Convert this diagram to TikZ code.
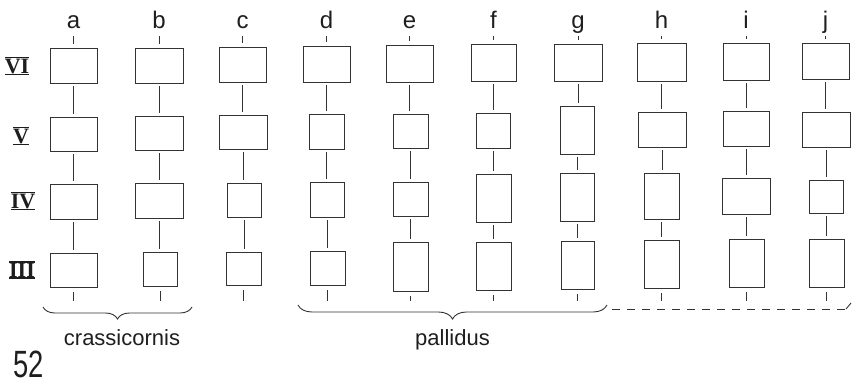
\documentclass[tikz,border=0pt]{standalone}
\usepackage{fontspec}
\setmainfont{Liberation Sans}
\newfontfamily\rnfont{Liberation Serif}
\usetikzlibrary{decorations.pathreplacing}
\definecolor{ink}{HTML}{333333}
\definecolor{txt}{HTML}{1E1E1E}
\newcommand\rnum[1]{\vbox{\hrule height 1.5pt\kern0.2pt\hbox{#1}\kern0.2pt\hrule height 1.5pt}}
\newcommand\bx[5]{\node[box, minimum width={(#3-#2)*1pt}, minimum height={(#5-#4)*1pt}] (#1) at ({(#2+#3)/2},{(#4+#5)/2}) {};}
\begin{document}
\begin{tikzpicture}[x=1pt,y=-1pt,
  box/.style={draw=ink, line width=0.9pt, inner sep=0pt, outer sep=0pt},
  conn/.style={draw=ink, line width=0.8pt, shorten <=3pt, shorten >=3pt},
  topstub/.style={draw=ink, line width=0.8pt, shorten >=4pt},
  botstub/.style={draw=ink, line width=0.8pt, shorten <=5pt},
  collabel/.style={font=\fontsize{24}{24}\selectfont, anchor=base, inner sep=0pt, text=txt},
  rowlabel/.style={font=\rnfont\bfseries\fontsize{22}{22}\selectfont, inner sep=0pt, text=txt},
  caption/.style={font=\fontsize{22}{22}\selectfont, anchor=base, inner sep=0pt, text=txt},
  bracestyle/.style={draw=ink, line width=0.9pt, decorate, decoration={brace, mirror, amplitude=#1}},
  dashline/.style={draw=ink, line width=0.9pt, dash pattern=on 8pt off 7pt}
]
\useasboundingbox (0,0) rectangle (856,386);

% boxes: name, x1, x2, y1, y2
\bx{a6}{50}{97}{48}{83}   \bx{a5}{50}{97}{117}{151}  \bx{a4}{50}{97}{184}{219}  \bx{a3}{50}{97}{253}{287}
\bx{b6}{135}{183}{48}{83} \bx{b5}{135}{183}{116}{150} \bx{b4}{135}{183}{183}{218} \bx{b3}{143}{177}{252}{286}
\bx{c6}{219}{266}{47}{82} \bx{c5}{219}{267}{115}{149} \bx{c4}{227}{261}{183}{217} \bx{c3}{226}{261}{252}{285}
\bx{d6}{303}{350}{46}{82} \bx{d5}{309}{344}{114}{149} \bx{d4}{310}{344}{182}{217} \bx{d3}{310}{345}{251}{285}
\bx{e6}{386}{433}{45}{82} \bx{e5}{393}{428}{114}{148} \bx{e4}{393}{428}{182}{216} \bx{e3}{393}{428}{242}{291}
\bx{f6}{471}{516}{44}{81} \bx{f5}{476}{510}{113}{148} \bx{f4}{476}{511}{174}{222} \bx{f3}{476}{511}{242}{290}
\bx{g6}{554}{602}{44}{81} \bx{g5}{560}{594}{106}{154} \bx{g4}{560}{594}{173}{221} \bx{g3}{561}{594}{241}{289}
\bx{h6}{637}{686}{43}{81} \bx{h5}{638}{686}{112}{147} \bx{h4}{644}{679}{173}{219} \bx{h3}{644}{679}{240}{288}
\bx{i6}{723}{769}{43}{80} \bx{i5}{723}{769}{111}{146} \bx{i4}{722}{770}{178}{214} \bx{i3}{729}{764}{239}{287}
\bx{j6}{802}{849}{43}{79} \bx{j5}{802}{850}{112}{147} \bx{j4}{809}{843}{180}{213} \bx{j3}{809}{844}{239}{287}

% column labels and stub ends
\foreach \c/\x in {a/73.5,b/159,c/242.5,d/326.5,e/409.5,f/493.5,g/578,h/661.5,i/746,j/825.5}{
  \node[collabel] (l\c) at (\x,28) {\c};
  \coordinate (\c t) at (\x,36);
  \coordinate (\c b) at (\x,301);
}

% connectors
\foreach \c in {a,b,c,d,e,f,g,h,i,j}{
  \draw[topstub] (\c t) -- (\c t |- \c6.north);
  \draw[conn] (\c6.south) -- (\c6.south |- \c5.north);
  \draw[conn] (\c5.south) -- (\c5.south |- \c4.north);
  \draw[conn] (\c4.south) -- (\c4.south |- \c3.north);
  \draw[botstub] (\c3.south) -- (\c3.south |- \c b);
}

% row labels
\node[rowlabel] (r6) at (17,66) {\rnum{VI}};
\node[rowlabel] (r5) at (21,136) {\rnum{V}};
\node[rowlabel] (r4) at (23,201) {\rnum{IV}};
\node[rowlabel] (r3) at (22,270) {\rnum{III}};

% braces
\coordinate (cbL) at (43,307);
\coordinate (cbR) at (192,307);
\draw[bracestyle=12pt] (cbL) -- (cbR);
\node[caption] (crass) at (122,345) {crassicornis};

\coordinate (pbL) at (298,305);
\coordinate (pbR) at (607,305);
\draw[bracestyle=14pt] (pbL) -- (pbR);
\node[caption] (pall) at (452.5,345) {pallidus};

\coordinate (dsL) at (612,309);
\coordinate (dsR) at (846,309);
\coordinate (dsT) at (851,303);
\draw[dashline] (dsL) -- (dsR);
\draw[draw=ink, line width=0.9pt] (dsR) -- (dsT);

% page number
\node[anchor=base west, inner sep=0pt, text=txt] (pg) at (13,377) {\fontsize{38}{38}\selectfont\scalebox{0.72}[1]{52}};
\end{tikzpicture}
\end{document}
